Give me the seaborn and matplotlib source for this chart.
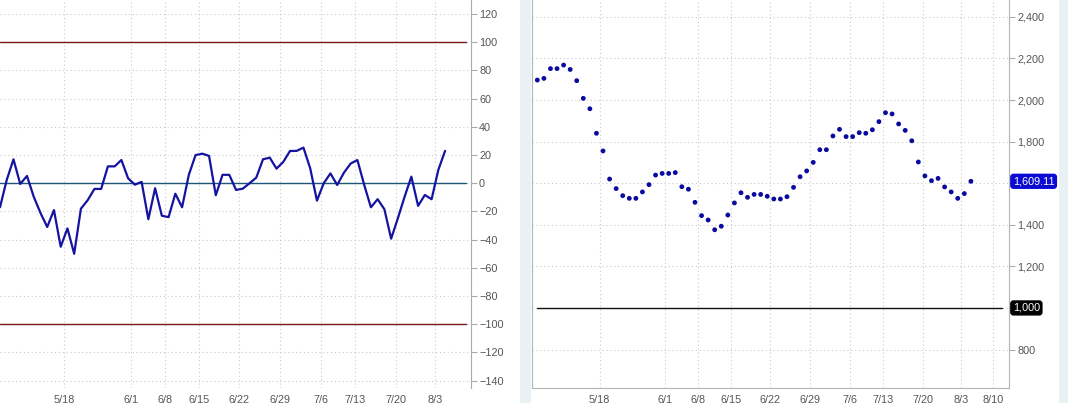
import numpy as np
import pandas as pd
import matplotlib
matplotlib.use("Agg")
import matplotlib.pyplot as plt
import matplotlib.transforms as mtrans
from matplotlib.patches import Rectangle
import seaborn as sns

# values (one point per trading day)
osc_values = [-17, 2.4, 17, -0.5, 5.2, -9.5, -21, -31, -19, -45,
              -32, -50, -18, -12, -4, -4, 12, 12, 16.5, 3.5,
              -1, 1, -25.5, -3.5, -23, -24, -7.4, -17, 6, 20,
              21, 19.4, -8.5, 6, 6, -4.7, -3.8, 0, 4,
              17, 18.2, 10.4, 15.1, 22.9, 23, 25.3, 10.6, -12.3, 0,
              7, -1.2, 7.5, 14, 16.5, -1, -17, -11.3, -18.4, -39.3,
              -24.8, -9.5, 4.7, -16, -8.3, -11.3, 9.5, 23]
price_values = [2096, 2104, 2151, 2151, 2168, 2147, 2093, 2008, 1958, 1840,
                1755, 1620, 1574, 1540, 1527, 1527, 1558, 1593, 1639, 1647,
                1647, 1651, 1583, 1571, 1508, 1444, 1423, 1376, 1393, 1447,
                1505, 1554, 1532, 1546, 1546, 1537, 1524, 1524, 1535,
                1580, 1631, 1659, 1700, 1761, 1761, 1827, 1859, 1824, 1824,
                1843, 1840, 1857, 1896, 1939, 1933, 1885, 1854, 1804, 1702,
                1635, 1612, 1623, 1582, 1558, 1527, 1550, 1609.11]
day = list(range(len(osc_values)))

date_labels = ["5/18", "6/1", "6/8", "6/15", "6/22", "6/29", "7/6", "7/13", "7/20", "8/3", "8/10"]
date_pos = [9.5, 19.5, 24.5, 29.5, 35.45, 41.45, 47.55, 52.6, 58.65, 64.55, 69.4]

osc_ticks = list(range(-140, 121, 20))
price_ticks = list(range(800, 2401, 200))
last_price = price_values[-1]
base_level = 1000

df = pd.DataFrame({"day": day, "osc": osc_values, "price": price_values})

sns.set_style("white")
plt.rcParams["font.family"] = ["Liberation Sans", "DejaVu Sans"]

W, H = 1068, 403
fig = plt.figure(figsize=(W / 100, H / 100), dpi=100)
fig.patch.set_facecolor("white")
fig.patches.append(Rectangle((520 / W, 0), 11 / W, 1, transform=fig.transFigure,
                             facecolor="#e9f1f5", edgecolor="none", zorder=0))
fig.patches.append(Rectangle((1059 / W, 0), 9 / W, 1, transform=fig.transFigure,
                             facecolor="#e9f1f5", edgecolor="none", zorder=0))

bottom = 15 / H
ax1 = fig.add_axes([0, bottom, 470.7 / W, 1 - bottom])
ax2 = fig.add_axes([532 / W, bottom, 477 / W, 1 - bottom])

grid_kw = dict(color="#c9c9c9", linewidth=0.8, linestyle=(0, (1, 2.5)), zorder=0)
label_color = "#555555"

def style_axes(ax, yticks, xticks, xlabels):
    ax.yaxis.tick_right()
    ax.set_yticks(yticks)
    ax.set_xticks(xticks)
    ax.set_xticklabels(xlabels)
    for v in yticks:
        ax.axhline(v, **grid_kw)
    for v in xticks:
        ax.axvline(v, **grid_kw)
    ax.tick_params(axis="y", direction="out", length=4, width=0.8, color="#aaaaaa",
                   labelsize=7.8, labelcolor=label_color, pad=2)
    ax.tick_params(axis="x", direction="out", length=3, width=0.8, color="#cccccc",
                   labelsize=7.8, labelcolor=label_color, pad=2)
    ax.set_xlabel("")
    ax.set_ylabel("")

# left panel: oscillator line
sns.lineplot(data=df, x="day", y="osc", ax=ax1, color="#1414a0", linewidth=1.6, zorder=3)
ax1.set_xlim(0, 69.8)
ax1.set_ylim(-145.2, 130)
style_axes(ax1, osc_ticks, date_pos[:-1], date_labels[:-1])
ax1.axhline(100, xmax=0.99, color="#7a1616", linewidth=1, zorder=2)
ax1.axhline(-100, xmax=0.99, color="#7a1616", linewidth=1, zorder=2)
ax1.axhline(0, xmax=0.99, color="#1d5778", linewidth=1, zorder=2)
for s in ["top", "left", "bottom"]:
    ax1.spines[s].set_visible(False)
ax1.spines["right"].set_color("#aaaaaa")

# right panel: price dots
sns.scatterplot(data=df, x="day", y="price", ax=ax2, color="#0a0a9e", s=12,
                edgecolor="none", zorder=3)
ax2.set_xlim(-0.81, 71.8)
ax2.set_ylim(615, 2481)
style_axes(ax2, price_ticks, date_pos, date_labels)
ax2.set_yticklabels(["" if v in (1000, 1600) else f"{v:,}" for v in price_ticks])
ax2.axhline(base_level, xmin=0.01, xmax=0.985, color="#111111", linewidth=1, zorder=2)
ax2.spines["top"].set_visible(False)
for s in ["left", "right", "bottom"]:
    ax2.spines[s].set_color("#b4b4b4")

trans = mtrans.blended_transform_factory(ax2.transAxes, ax2.transData)
ax2.text(1.008, last_price, f"{last_price:,.2f}", transform=trans, ha="left", va="center",
         fontsize=7.8, color="white",
         bbox=dict(boxstyle="round,pad=0.18,rounding_size=0.25", facecolor="#0a0ad2", edgecolor="#0a0ad2"))
ax2.text(1.008, base_level, f"{base_level:,}", transform=trans, ha="left", va="center",
         fontsize=7.8, color="white",
         bbox=dict(boxstyle="round,pad=0.18,rounding_size=0.25", facecolor="black", edgecolor="black"))

fig.savefig("out.png", dpi=100)
